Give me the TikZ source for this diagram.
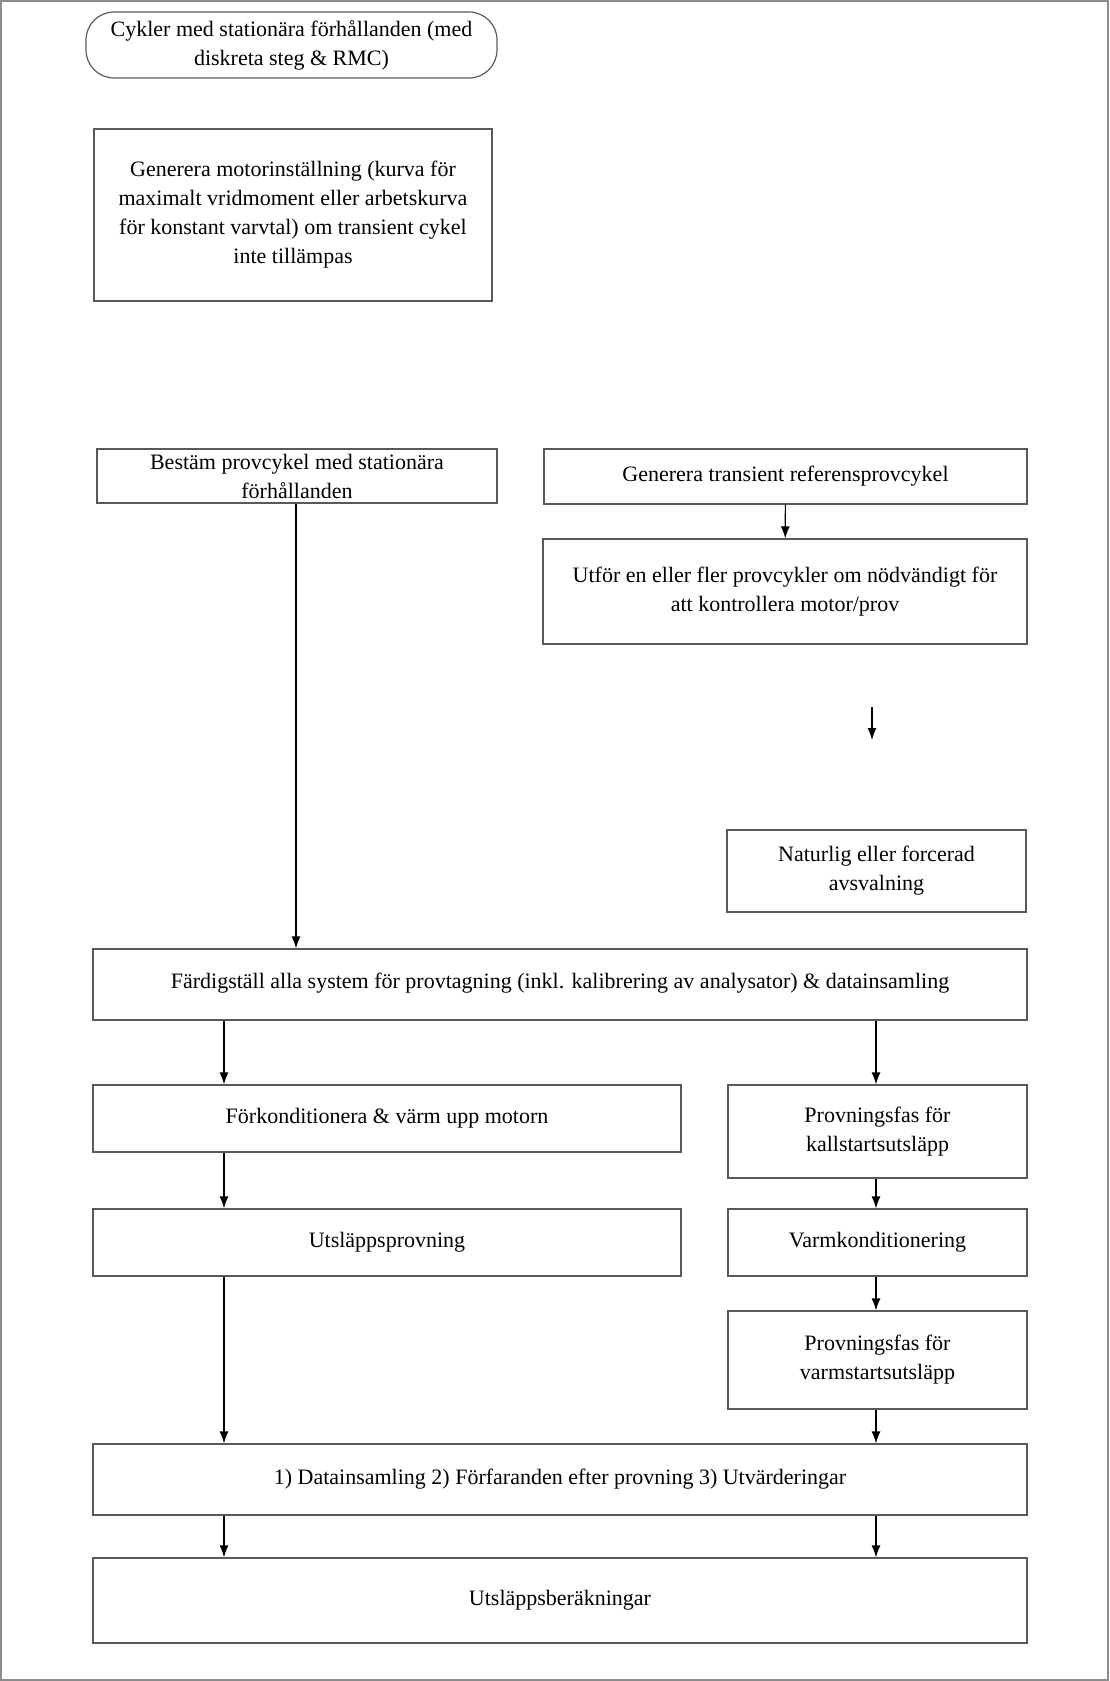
\documentclass[tikz,border=0pt]{standalone}
\usepackage{fontspec}
\setmainfont{Liberation Serif}
\usetikzlibrary{arrows.meta}

\begin{document}
\begin{tikzpicture}[x=0.5pt, y=-0.5pt,
	box/.style={draw=black!65, line width=0.6pt, align=center, inner sep=0pt, font=\fontsize{11}{14.5}\selectfont},
	startbox/.style={box, rounded corners=14pt},
	arr/.style={-{Latex[length=6pt,width=4.5pt]}, line width=0.6pt}]
	\useasboundingbox (0,0) rectangle (1109,1681);
	\draw[black!45, line width=0.8pt] (1,1) rectangle (1108,1680);

	\coordinate (colM) at (296,0);
	\coordinate (colL) at (224,0);
	\coordinate (colR) at (876,0);

	\node[startbox, minimum width=205.5pt, minimum height=33pt] (start) at (291.5,45) {Cykler med stationära förhållanden (med\\diskreta steg \& RMC)};
	\node[box, minimum width=199pt, minimum height=86pt] (motor) at (293,215) {Generera motorinställning (kurva för\\maximalt vridmoment eller arbetskurva\\för konstant varvtal) om transient cykel\\inte tillämpas};
	\node[box, minimum width=200pt, minimum height=27pt] (statcyk) at (297,476) {Bestäm provcykel med stationära\\förhållanden};
	\node[box, minimum width=241.5pt, minimum height=27.5pt] (transcyk) at (785.5,476.5) {Generera transient referensprovcykel};
	\node[box, minimum width=242pt, minimum height=52.5pt] (utfor) at (785,591.5) {Utför en eller fler provcykler om nödvändigt för\\att kontrollera motor/prov};
	\node[box, minimum width=149.5pt, minimum height=41pt] (avsval) at (876.5,871) {Naturlig eller forcerad\\avsvalning};
	\node[box, minimum width=467pt, minimum height=35.5pt] (fardig) at (560,984.5) {\raisebox{4pt}{Färdigställ alla system för provtagning (inkl. kalibrering av analysator) \& datainsamling}};
	\node[box, minimum width=294pt, minimum height=33.5pt] (forkond) at (387,1118.5) {\raisebox{3pt}{Förkonditionera \& värm upp motorn}};
	\node[box, minimum width=149.5pt, minimum height=46.5pt] (kall) at (877.5,1131.5) {Provningsfas för\\kallstartsutsläpp};
	\node[box, minimum width=294pt, minimum height=33.5pt] (utsprov) at (387,1242.5) {Utsläppsprovning};
	\node[box, minimum width=149.5pt, minimum height=33.5pt] (varmkond) at (877.5,1242.5) {Varmkonditionering};
	\node[box, minimum width=149.5pt, minimum height=49pt] (varm) at (877.5,1360) {Provningsfas för\\varmstartsutsläpp};
	\node[box, minimum width=467pt, minimum height=35.5pt] (datains) at (560,1479.5) {1) Datainsamling 2) Förfaranden efter provning 3) Utvärderingar};
	\node[box, minimum width=467pt, minimum height=42.5pt] (berakn) at (560,1600.5) {Utsläppsberäkningar};

	\coordinate (cool1) at (872,707);
	\coordinate (cool2) at (872,740);

	\draw[arr] (transcyk) -- (utfor);
	\draw[arr] (cool1) -- (cool2);
	\draw[arr] (statcyk.south -| colM) -- (fardig.north -| colM);
	\draw[arr] (fardig.south -| colL) -- (forkond.north -| colL);
	\draw[arr] (fardig.south -| colR) -- (kall.north -| colR);
	\draw[arr] (forkond.south -| colL) -- (utsprov.north -| colL);
	\draw[arr] (kall.south -| colR) -- (varmkond.north -| colR);
	\draw[arr] (varmkond.south -| colR) -- (varm.north -| colR);
	\draw[arr] (utsprov.south -| colL) -- (datains.north -| colL);
	\draw[arr] (varm.south -| colR) -- (datains.north -| colR);
	\draw[arr] (datains.south -| colL) -- (berakn.north -| colL);
	\draw[arr] (datains.south -| colR) -- (berakn.north -| colR);
\end{tikzpicture}
\end{document}
